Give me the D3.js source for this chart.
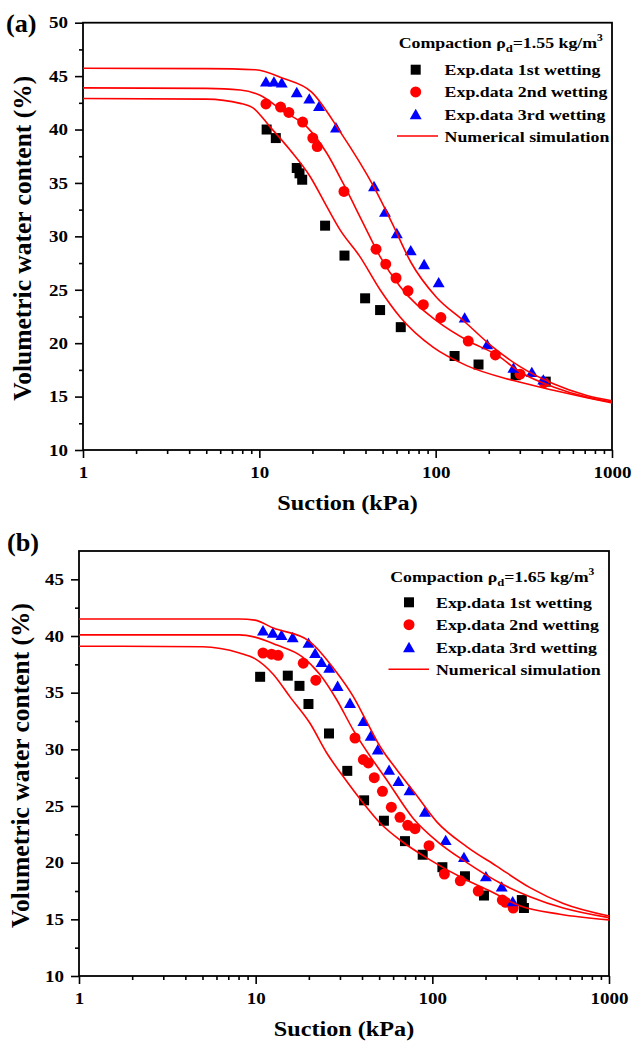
<!DOCTYPE html>
<html><head><meta charset="utf-8">
<script src="https://cdn.jsdelivr.net/npm/d3@7"></script>
<style>
body{margin:0;background:#fff}
text{font-family:"Liberation Serif","Times New Roman",serif;font-weight:bold;fill:#000}
</style>
</head><body><svg id="c" width="632" height="1044"></svg>
<script>
// ---------- tick labels ----------
const xTickValues = [1, 10, 100, 1000];
const xTickLabels = ["1", "10", "100", "1000"];
const yTicksA = [10, 15, 20, 25, 30, 35, 40, 45, 50];
const yTicksB = [10, 15, 20, 25, 30, 35, 40, 45];
const seriesNames = ["Exp.data 1st wetting", "Exp.data 2nd wetting", "Exp.data 3rd wetting", "Numerical simulation"];
const densityA = "1.55", densityB = "1.65";

// ---------- panel (a) experimental data ----------
const suctionA1 = [11.0, 12.4, 16.3, 16.9, 17.5, 23.6, 30.4, 39.8, 48.4, 63.4, 128, 175, 284, 421];
const thetaA1   = [40.0, 39.2, 36.4, 35.9, 35.3, 31.0, 28.2, 24.2, 23.1, 21.5, 18.8, 18.0, 17.0, 16.4];
const suctionA2 = [10.9, 13.2, 14.7, 17.6, 20.1, 21.3, 30.2, 45.9, 52.1, 59.6, 69.7, 85.1, 107, 153, 218, 301, 412];
const thetaA2   = [42.4, 42.1, 41.6, 40.7, 39.2, 38.4, 34.2, 28.8, 27.4, 26.1, 24.9, 23.6, 22.4, 20.2, 18.9, 17.1, 16.3];
const suctionA3 = [10.9, 12.1, 13.4, 16.3, 19.2, 21.8, 27.2, 44.7, 51.6, 60.2, 72.2, 86, 104, 146, 196, 276, 351, 408];
const thetaA3   = [44.5, 44.5, 44.4, 43.5, 42.9, 42.2, 40.2, 34.7, 32.3, 30.3, 28.7, 27.4, 25.7, 22.4, 19.9, 17.7, 17.3, 16.6];

// ---------- panel (a) numerical simulation ----------
const simSuctionA1 = [1, 5, 7.8, 9.25, 11.5, 14.9, 19.4, 24.1, 28.7, 37.2, 48.4, 62.8, 97, 150, 276, 465, 720, 1000];
const simThetaA1   = [42.9, 42.85, 42.45, 42.0, 40.25, 38.1, 35.6, 32.8, 30.6, 28.1, 25.0, 22.45, 19.6, 17.9, 16.5, 15.6, 14.9, 14.4];
const simSuctionA2 = [1, 5, 7.8, 10.1, 13.7, 18.6, 24.1, 29.9, 38.9, 48.4, 62.8, 101, 153, 222, 301, 465, 720, 1000];
const simThetaA2   = [43.9, 43.85, 43.7, 43.2, 41.7, 40.25, 37.8, 34.95, 31.2, 28.1, 25.3, 22.1, 20.2, 18.9, 17.3, 15.9, 14.95, 14.5];
const simSuctionA3 = [1, 5, 9.5, 13.6, 19.8, 28.7, 44.7, 57.5, 72.2, 101, 144, 212, 301, 465, 720, 1000];
const simThetaA3   = [45.73, 45.7, 45.6, 44.8, 43.5, 39.8, 34.6, 31.0, 27.6, 24.3, 22.1, 19.6, 17.8, 16.2, 15.1, 14.6];

// ---------- panel (b) experimental data ----------
const suctionB1 = [10.6, 15.2, 17.7, 19.9, 26.0, 33.0, 41.1, 53.2, 70.0, 88.2, 114, 153, 196, 321, 330];
const thetaB1   = [36.4, 36.5, 35.6, 34.0, 31.4, 28.1, 25.5, 23.7, 21.9, 20.7, 19.6, 18.8, 17.1, 16.7, 16.0];
const suctionB2 = [11.0, 12.3, 13.4, 18.6, 21.9, 36.5, 40.7, 43.4, 46.9, 52.2, 58.6, 65.6, 72.6, 79.8, 95.8, 117, 144, 182, 249, 260, 287];
const thetaB2   = [38.5, 38.4, 38.3, 37.6, 36.1, 31.0, 29.1, 28.8, 27.5, 26.3, 24.9, 24.0, 23.3, 23.0, 21.5, 19.0, 18.4, 17.5, 16.7, 16.5, 16.0];
const suctionB3 = [11.0, 12.5, 14.0, 16.2, 19.9, 21.7, 23.6, 26.1, 29.1, 34.2, 40.7, 44.8, 49.1, 56.9, 64.3, 74.3, 90.8, 119, 151, 201, 247, 285];
const thetaB3   = [40.5, 40.3, 40.1, 39.9, 39.4, 38.5, 37.7, 37.2, 35.6, 34.1, 32.5, 31.2, 30.0, 28.2, 27.2, 26.4, 24.5, 22.0, 20.5, 18.8, 17.9, 16.6];

// ---------- panel (b) numerical simulation ----------
const simSuctionB1 = [1, 5, 8.1, 9.9, 12.6, 15.6, 20.3, 25.2, 31.3, 40.7, 50.6, 65.6, 97, 150, 212, 313, 528, 1000];
const simThetaB1   = [39.1, 39.05, 38.5, 38.0, 36.6, 34.65, 32.3, 29.7, 27.6, 25.25, 23.5, 22.0, 20.25, 18.6, 17.5, 16.2, 15.45, 14.95];
const simSuctionB2 = [1, 8.1, 9.9, 13.2, 18.2, 23.1, 28.7, 35.7, 44.4, 55.2, 78, 106, 157, 242, 357, 551, 1000];
const simThetaB2   = [40.1, 40.1, 39.9, 39.2, 38.2, 36.6, 34.4, 31.7, 29.4, 27.3, 23.9, 21.9, 20.0, 18.2, 17.0, 16.0, 15.15];
const simSuctionB3 = [1, 8.1, 9.9, 12.6, 19.9, 28.7, 35.7, 42.5, 50.6, 62.9, 80, 106, 157, 231, 357, 551, 1000];
const simThetaB3   = [41.5, 41.5, 41.4, 40.7, 39.6, 36.8, 34.65, 32.45, 30.25, 28.2, 26.1, 23.6, 21.4, 19.7, 17.8, 16.4, 15.3];

// ---------- drawing ----------
const svg = d3.select("#c");
svg.append("rect").attr("width", 632).attr("height", 1044).attr("fill", "#fff");
const SX = 1.15;               // horizontal stretch of the original lettering
const colors = ["#000000", "#ff0000", "#0000ff"];
const symbols = [d3.symbolSquare, d3.symbolCircle, d3.symbolTriangle];
const symSizes = [100, 95, 62];
const symDy = [0, 0, 1.6];

function isMajor(v, majors) { return majors.some(m => Math.abs(m - v) < 1e-9); }

function drawPanel(p) {
  const x = d3.scaleLog().domain([1, 1000]).range([p.left, p.right]);
  const y = d3.scaleLinear().domain(p.yDomain).range([p.bottom, p.top]);
  const g = svg.append("g");

  // minor ticks
  const minorX = x.ticks().filter(v => !isMajor(v, xTickValues));
  g.append("g").attr("transform", `translate(0,${p.bottom})`)
    .call(d3.axisBottom(x).tickValues(minorX).tickSize(4).tickFormat(""))
    .call(s => s.select(".domain").remove());
  const minorY = d3.range(p.yDomain[0] + 2.5, p.yDomain[1] - 0.01, 5);
  g.append("g").attr("transform", `translate(${p.left},0)`)
    .call(d3.axisLeft(y).tickValues(minorY).tickSize(4).tickFormat(""))
    .call(s => s.select(".domain").remove());

  // major ticks
  const xa = g.append("g").attr("transform", `translate(0,${p.bottom})`)
    .call(d3.axisBottom(x).tickValues(xTickValues).tickFormat((d, i) => xTickLabels[i]).tickSize(8).tickPadding(8))
    .call(s => s.select(".domain").remove());
  xa.selectAll("text").attr("font-size", 16.5).attr("font-family", null)
    .attr("transform", `scale(${SX},1)`);
  const ya = g.append("g").attr("transform", `translate(${p.left},0)`)
    .call(d3.axisLeft(y).tickValues(p.yTicks).tickFormat(d3.format("d")).tickSize(8).tickPadding(7))
    .call(s => s.select(".domain").remove());
  ya.selectAll("text").attr("font-size", 16.5).attr("font-family", null)
    .attr("x", 0).attr("transform", `translate(-15,0) scale(${SX},1)`);
  g.selectAll(".tick line").attr("stroke", "#000").attr("stroke-width", 1.6);

  // frame
  g.append("rect").attr("x", p.left).attr("y", p.top)
    .attr("width", p.right - p.left).attr("height", p.bottom - p.top)
    .attr("fill", "none").attr("stroke", "#000").attr("stroke-width", 1.8);

  // experimental points
  p.series.forEach((s, i) => {
    g.append("g").selectAll("path").data(d3.zip(s[0], s[1])).join("path")
      .attr("transform", d => `translate(${x(d[0])},${y(d[1]) + symDy[i]})`)
      .attr("d", d3.symbol(symbols[i], symSizes[i]))
      .attr("fill", colors[i]);
  });

  // simulation curves
  const line = d3.line().curve(d3.curveMonotoneX).x(d => x(d[0])).y(d => y(d[1]));
  p.sims.forEach(s => {
    g.append("path").datum(d3.zip(s[0], s[1])).attr("d", line)
      .attr("fill", "none").attr("stroke", "#ff0000").attr("stroke-width", 1.6);
  });

  // panel label
  svg.append("text").attr("transform", `translate(${p.tagX},${p.tagY}) scale(1.05,1)`)
    .attr("font-size", 25).text(p.tag);

  // axis titles
  svg.append("text").attr("transform", `translate(${(p.left + p.right) / 2},${p.bottom + 60}) scale(1.1,1)`)
    .attr("text-anchor", "middle").attr("font-size", 22).text("Suction (kPa)");
  svg.append("text").attr("transform", `translate(${p.ytX},${(p.top + p.bottom) / 2 + 2}) rotate(-90)`)
    .attr("text-anchor", "middle").attr("font-size", 25.5).text("Volumetric water content (%)");

  // legend
  const L = p.legend;
  const t = svg.append("text").attr("transform", `translate(${L.titleX},${L.titleY}) scale(${SX},1)`)
    .attr("font-size", 15.5);
  t.append("tspan").text("Compaction \u03C1");
  t.append("tspan").attr("font-size", 11).attr("dy", 4).text("d");
  t.append("tspan").attr("dy", -4).text("=" + p.density + " kg/m");
  t.append("tspan").attr("font-size", 10).attr("dy", -7).text("3");
  seriesNames.forEach((name, i) => {
    const by = L.rowY + i * L.rowStep;
    if (i < 3) {
      svg.append("path").attr("transform", `translate(${L.symX},${by - 5.5 + symDy[i]})`)
        .attr("d", d3.symbol(symbols[i], symSizes[i])).attr("fill", colors[i]);
    } else {
      svg.append("line").attr("x1", L.lineX0).attr("x2", L.lineX1)
        .attr("y1", by - 5.8).attr("y2", by - 5.8)
        .attr("stroke", "#ff0000").attr("stroke-width", 1.6);
    }
    svg.append("text").attr("transform", `translate(${L.textX},${by}) scale(${SX},1)`)
      .attr("font-size", 15.5).text(name);
  });
}

drawPanel({
  left: 83, right: 612, top: 22.7, bottom: 450, yDomain: [10, 50], yTicks: yTicksA,
  series: [[suctionA1, thetaA1], [suctionA2, thetaA2], [suctionA3, thetaA3]],
  sims: [[simSuctionA1, simThetaA1], [simSuctionA2, simThetaA2], [simSuctionA3, simThetaA3]],
  tag: "(a)", tagX: 6, tagY: 32, ytX: 31, density: densityA,
  legend: { titleX: 398.7, titleY: 47.5, rowY: 75.2, rowStep: 22.2, symX: 415.7, textX: 444.6, lineX0: 397, lineX1: 438 }
});
drawPanel({
  left: 79, right: 609, top: 551, bottom: 976, yDomain: [10, 47.5], yTicks: yTicksB,
  series: [[suctionB1, thetaB1], [suctionB2, thetaB2], [suctionB3, thetaB3]],
  sims: [[simSuctionB1, simThetaB1], [simSuctionB2, simThetaB2], [simSuctionB3, simThetaB3]],
  tag: "(b)", tagX: 7, tagY: 551, ytX: 29, density: densityB,
  legend: { titleX: 390.2, titleY: 582, rowY: 607.8, rowStep: 22.4, symX: 409, textX: 436, lineX0: 388.5, lineX1: 429 }
});
</script>
</body></html>
